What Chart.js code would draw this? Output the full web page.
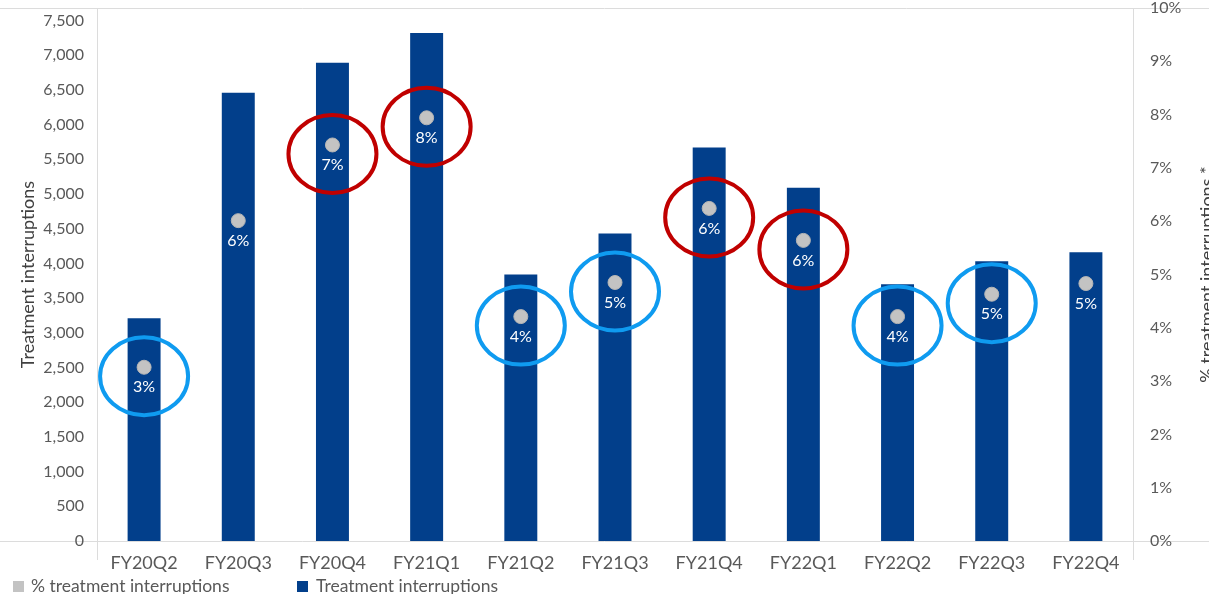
<!DOCTYPE html>
<html>
<head>
<meta charset="utf-8">
<title>Treatment interruptions</title>
<script src="https://cdn.jsdelivr.net/npm/chart.js@4.4.1/dist/chart.umd.min.js"></script>
<style>
    html, body { margin: 0; padding: 0; background: #fff; overflow: hidden; }
    #wrap { position: relative; width: 1209px; height: 594px; }
</style>
</head>
<body>
<div id="wrap"><canvas id="chart"></canvas></div>
<script>
// Data
const quarters = ["FY20Q2", "FY20Q3", "FY20Q4", "FY21Q1", "FY21Q2", "FY21Q3",
                  "FY21Q4", "FY22Q1", "FY22Q2", "FY22Q3", "FY22Q4"];
const interruptions = [3210, 6460, 6890, 7320, 3840, 4430, 5670, 5090, 3700, 4030, 4160];
const interruptionPct = [3.26, 6.01, 7.43, 7.94, 4.21, 4.85, 6.24, 5.64, 4.21, 4.63, 4.83];
const pctLabels = ["3%", "6%", "7%", "8%", "4%", "5%", "6%", "6%", "4%", "5%", "5%"];
const countTicks = [0, 500, 1000, 1500, 2000, 2500, 3000, 3500, 4000, 4500,
                    5000, 5500, 6000, 6500, 7000, 7500];
const pctTicks = [0, 1, 2, 3, 4, 5, 6, 7, 8, 9, 10];
const blueRings = ["FY20Q2", "FY21Q2", "FY21Q3", "FY22Q2", "FY22Q3"];
const redRings = ["FY20Q4", "FY21Q1", "FY21Q4", "FY22Q1"];

const NAVY = "#023f8b";
const GREY_DOT = "#c3c3c3";
const TEXT = "#595959";
const FRAME = "#dcdcdc";
const FONT = "Lato, 'Open Sans', sans-serif";

/* -------------------------------
   Frame lines like the Excel chart
---------------------------------*/
const framePlugin = {
    id: "frame",
    beforeDraw(chart) {
        const { ctx, chartArea: a, width } = chart;
        ctx.save();
        ctx.strokeStyle = FRAME;
        ctx.lineWidth = 1;
        ctx.beginPath();
        ctx.moveTo(0, a.top + 0.5); ctx.lineTo(width, a.top + 0.5);
        ctx.moveTo(0, a.bottom + 0.5); ctx.lineTo(width, a.bottom + 0.5);
        ctx.moveTo(a.left + 0.5, a.top); ctx.lineTo(a.left + 0.5, a.bottom + 19);
        ctx.moveTo(a.right + 0.5, a.top); ctx.lineTo(a.right + 0.5, a.bottom + 19);
        ctx.stroke();
        ctx.restore();
    }
};

/* -------------------------------
   White % labels + hand-drawn rings
---------------------------------*/
const annotatePlugin = {
    id: "annotate",
    afterDatasetsDraw(chart) {
        const { ctx } = chart;
        const meta = chart.getDatasetMeta(0);
        ctx.save();
        ctx.fillStyle = "#ffffff";
        ctx.font = "16px " + FONT;
        ctx.textAlign = "center";
        ctx.textBaseline = "middle";
        meta.data.forEach((pt, i) => {
            ctx.fillText(pctLabels[i], pt.x, pt.y + 20);
        });

        ctx.lineWidth = 4;
        const ring = (name, color) => {
            const i = quarters.indexOf(name);
            const pt = meta.data[i];
            ctx.strokeStyle = color;
            ctx.beginPath();
            ctx.ellipse(pt.x, pt.y + 9, 44, 39, 0, 0, Math.PI * 2);
            ctx.stroke();
        };
        blueRings.forEach(q => ring(q, "#0f9bf0"));
        redRings.forEach(q => ring(q, "#c00000"));
        ctx.restore();
    },
    afterDraw(chart) {
        const { ctx, chartArea: a } = chart;
        ctx.save();
        // right axis title reads bottom-to-top, partly cut by the edge
        ctx.fillStyle = "#404040";
        ctx.font = "18px " + FONT;
        ctx.textAlign = "center";
        ctx.textBaseline = "middle";
        ctx.translate(1207, (a.top + a.bottom) / 2);
        ctx.rotate(-Math.PI / 2);
        ctx.fillText("% treatment interruptions *", 0, 0);
        ctx.restore();

        // legend
        ctx.save();
        ctx.font = "17.5px " + FONT;
        ctx.textBaseline = "middle";
        ctx.fillStyle = GREY_DOT;
        ctx.fillRect(13, 581, 11, 11);
        ctx.fillStyle = NAVY;
        ctx.fillRect(297, 581, 11, 11);
        ctx.fillStyle = TEXT;
        ctx.fillText(chart.data.datasets[0].label, 31, 586);
        ctx.fillText(chart.data.datasets[1].label, 316, 586);
        ctx.restore();
    }
};

const noPad = (s) => {
    s.paddingTop = 0; s.paddingBottom = 0;
    s.paddingLeft = 0; s.paddingRight = 0;
};

const ctx = document.getElementById("chart").getContext("2d");
new Chart(ctx, {
    data: {
        labels: quarters,
        datasets: [
            {
                type: "line",
                label: "% treatment interruptions",
                data: interruptionPct,
                yAxisID: "yPct",
                showLine: false,
                pointRadius: 7,
                pointHoverRadius: 7,
                pointBackgroundColor: GREY_DOT,
                pointBorderColor: "#b5b5b5",
                pointBorderWidth: 1,
                order: 0
            },
            {
                type: "bar",
                label: "Treatment interruptions",
                data: interruptions,
                yAxisID: "y",
                backgroundColor: NAVY,
                barPercentage: 0.35,
                categoryPercentage: 1,
                order: 1
            }
        ]
    },
    options: {
        responsive: true,
        maintainAspectRatio: false,
        animation: false,
        layout: { padding: { top: 7, right: 0, bottom: 0, left: 0 } },
        plugins: {
            legend: { display: false },
            tooltip: { enabled: false }
        },
        scales: {
            x: {
                grid: { display: false },
                border: { display: false },
                ticks: {
                    color: TEXT,
                    font: { family: FONT, size: 18 },
                    padding: 3,
                    maxRotation: 0,
                    autoSkip: false
                },
                afterFit: (s) => { noPad(s); s.height = 53; }
            },
            y: {
                position: "left",
                min: 0,
                max: 7680,
                grid: { display: false },
                border: { display: false },
                ticks: {
                    color: TEXT,
                    font: { family: FONT, size: 16 },
                    padding: 5,
                    autoSkip: false,
                    callback: (v) => v.toLocaleString("en-US")
                },
                afterBuildTicks: (s) => { s.ticks = countTicks.map(v => ({ value: v })); },
                title: {
                    display: true,
                    text: "Treatment interruptions",
                    color: "#404040",
                    font: { family: FONT, size: 18 },
                    padding: { top: 17, bottom: 0 }
                },
                afterFit: (s) => { noPad(s); s.width = 97; }
            },
            yPct: {
                position: "right",
                min: 0,
                max: 10,
                grid: { display: false },
                border: { display: false },
                ticks: {
                    color: TEXT,
                    font: { family: FONT, size: 16 },
                    padding: 9,
                    autoSkip: false,
                    callback: (v) => v + "%"
                },
                afterBuildTicks: (s) => { s.ticks = pctTicks.map(v => ({ value: v })); },
                afterFit: (s) => { noPad(s); s.width = 76; }
            }
        }
    },
    plugins: [framePlugin, annotatePlugin]
});
</script>
</body>
</html>
